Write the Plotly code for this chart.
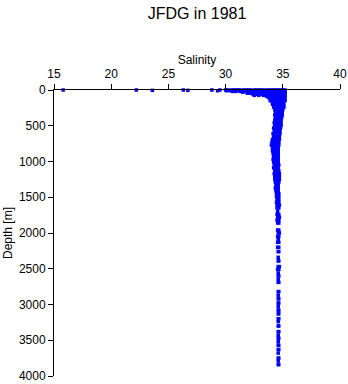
import plotly.graph_objects as go

# Surface outliers (depth 0 m)
outlier_sal = [15.8, 22.2, 23.6, 26.3, 26.7, 28.8, 29.3, 29.5]
outlier_dep = [0, 0, 5, 0, 5, 0, 10, 0]

# Depth levels [m] and salinity readings observed at each level
depth_levels = [0, 10, 20, 30, 45, 60, 75, 90, 110, 130, 150, 175,
                200, 240, 275, 310, 350, 385, 420, 460, 495, 530, 570, 610,
                650, 690, 730, 770, 810, 850, 890, 930, 970, 1010, 1050, 1090,
                1130, 1170, 1210, 1250, 1290, 1330, 1370, 1410, 1450, 1490,
                1530, 1570, 1610, 1650, 1700, 1740, 1780, 1820, 1860, 1960,
                2000, 2050, 2090, 2130, 2200, 2260, 2340, 2390, 2470, 2510,
                2560, 2600, 2650, 2690, 2820, 2870, 2920, 2980, 3030, 3080,
                3130, 3200, 3240, 3300, 3380, 3430, 3470, 3520, 3570, 3630,
                3680, 3750, 3790, 3840]

salinity_at_level = [
    [30.0, 30.2, 30.5, 30.7, 30.9, 31.1, 31.3, 31.6, 31.8, 32.0, 32.2, 32.5, 32.7,
     32.9, 33.1, 33.3, 33.6, 33.8, 34.0, 34.2, 34.4, 34.6, 34.8, 35.0, 35.2],
    [30.1, 30.4, 30.8, 31.2, 31.5, 31.9, 32.3, 32.6, 33.0, 33.4, 33.7, 34.1, 34.5, 34.8, 35.1],
    [30.6, 30.9, 31.3, 31.7, 32.1, 32.4, 32.8, 33.2, 33.5, 33.9, 34.3, 34.6, 35.0, 35.2],
    [31.5, 31.9, 32.3, 32.7, 33.1, 33.5, 33.9, 34.3, 34.7, 35.1],
    [31.9, 32.2, 32.6, 33.0, 33.4, 33.8, 34.2, 34.6, 35.0, 35.2],
    [32.4, 32.8, 33.2, 33.6, 34.0, 34.4, 34.8, 35.1],
    [32.5, 32.9, 33.3, 33.7, 34.1, 34.5, 34.9, 35.2],
    [33.6, 33.9, 34.3, 34.7, 35.0],
    [33.8, 34.0, 34.4, 34.8, 35.2],
    [34.0, 34.3, 34.6, 34.9, 35.1],
    [33.9, 34.1, 34.4, 34.7, 35.0, 35.2],
    [34.1, 34.4, 34.7, 35.0],
    [34.1, 34.35, 34.6, 34.85, 35.1],
    [34.2, 34.45, 34.7, 34.95, 35.1],
    [34.3, 34.5, 34.75, 35.0],
    [34.35, 34.6, 34.8, 34.95],
    [34.3, 34.55, 34.75, 34.95],
    [34.35, 34.6, 34.8, 34.9],
    [34.3, 34.5, 34.7, 34.85],
    [34.25, 34.5, 34.7, 34.85],
    [34.3, 34.55, 34.75, 34.85],
    [34.2, 34.45, 34.65, 34.8],
    [34.25, 34.5, 34.7, 34.75],
    [34.15, 34.4, 34.6, 34.75],
    [34.2, 34.45, 34.65, 34.7],
    [34.1, 34.35, 34.55, 34.7],
    [34.05, 34.3, 34.5, 34.65],
    [34.0, 34.2, 34.45, 34.65],
    [34.1, 34.3, 34.5, 34.6],
    [34.1, 34.35, 34.55, 34.6],
    [34.15, 34.35, 34.6],
    [34.2, 34.4, 34.6],
    [34.15, 34.4, 34.6],
    [34.2, 34.45, 34.6],
    [34.25, 34.45, 34.65],
    [34.2, 34.45, 34.6],
    [34.3, 34.5, 34.65],
    [34.25, 34.5, 34.7],
    [34.3, 34.5, 34.7],
    [34.3, 34.55, 34.7],
    [34.35, 34.55, 34.65],
    [34.4, 34.6],
    [34.35, 34.6],
    [34.4, 34.6],
    [34.45, 34.65],
    [34.45, 34.65],
    [34.5, 34.65],
    [34.45, 34.65],
    [34.5, 34.7],
    [34.5, 34.65],
    [34.55],
    [34.5, 34.65],
    [34.55, 34.7],
    [34.5, 34.65],
    [34.55, 34.65],
    [34.55, 34.65],
    [34.6, 34.7],
    [34.55, 34.65],
    [34.6],
    [34.55, 34.65],
    [34.55, 34.65],
    [34.6, 34.65],
    [34.6],
    [34.6, 34.65],
    [34.6, 34.7],
    [34.55, 34.65],
    [34.6],
    [34.6, 34.65],
    [34.6],
    [34.6, 34.65],
    [34.6, 34.65],
    [34.6],
    [34.6, 34.65],
    [34.6, 34.65],
    [34.6],
    [34.6, 34.65],
    [34.6, 34.65],
    [34.6, 34.65],
    [34.6],
    [34.6, 34.65],
    [34.6, 34.65],
    [34.6],
    [34.6, 34.65],
    [34.6],
    [34.6, 34.65],
    [34.6, 34.65],
    [34.6],
    [34.6, 34.65],
    [34.6],
    [34.6, 34.65],
]

x_ticks = [15, 20, 25, 30, 35, 40]
y_ticks = [0, 500, 1000, 1500, 2000, 2500, 3000, 3500, 4000]

sal = list(outlier_sal)
dep = list(outlier_dep)
for d, vals in zip(depth_levels, salinity_at_level):
    for v in vals:
        sal.append(v)
        dep.append(d)

font = "Liberation Sans, Arial, sans-serif"

fig = go.Figure(go.Scatter(
    x=sal, y=dep, mode="markers",
    marker=dict(symbol="square", size=3.5, color="#0000ff", line=dict(width=0)),
    hoverinfo="skip", cliponaxis=False,
))

fig.update_layout(
    width=348, height=384,
    margin=dict(l=54, r=8, t=90, b=8, autoexpand=False),
    paper_bgcolor="white", plot_bgcolor="white",
    showlegend=False,
    font=dict(family=font, size=12, color="black"),
    title=dict(text="JFDG in 1981", x=197 / 348, xanchor="center",
               y=1 - 13 / 384, yanchor="middle", yref="container",
               font=dict(family=font, size=16, color="black")),
)
fig.update_xaxes(
    side="top", range=[15, 40], tickvals=x_ticks, ticks="outside", ticklen=5,
    tickwidth=1, tickcolor="black", showline=True, linecolor="black", linewidth=1,
    showgrid=False, zeroline=False, mirror=False, automargin=False,
    ticklabelstandoff=1,
    title=dict(text="Salinity", standoff=0, font=dict(family=font, size=12)),
    tickfont=dict(family=font, size=12),
)
fig.update_yaxes(
    range=[4000, 0], tickvals=y_ticks, ticks="outside", ticklen=5,
    tickwidth=1, tickcolor="black", showline=True, linecolor="black", linewidth=1,
    showgrid=False, zeroline=False, automargin=False,
    title=dict(text="Depth [m]", standoff=3, font=dict(family=font, size=12)),
    tickfont=dict(family=font, size=12),
)

fig.write_html("out.html")
